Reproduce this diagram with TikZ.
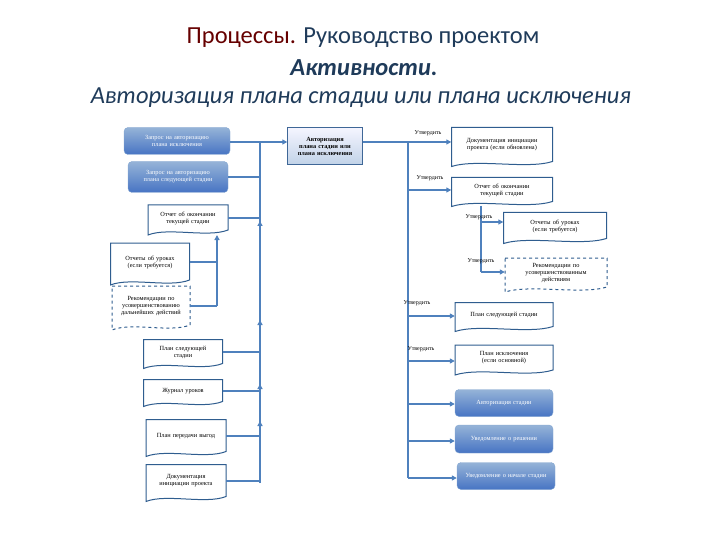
\documentclass[tikz,border=0pt]{standalone}
\usepackage{fontspec}
\setmainfont{Liberation Serif}
\newfontfamily\titlefont{Carlito}
\usetikzlibrary{arrows.meta,calc}
\definecolor{ln}{HTML}{4F81BD}
\definecolor{bd}{HTML}{2F5D8F}
\definecolor{tt}{HTML}{1F3B5A}
\tikzset{
 docb/.style={minimum width=#1, inner sep=1pt, text width=#1-18pt, align=center, font=\fontsize{6.3}{7}\selectfont},
 docline/.style={draw=bd, line width=1pt, fill=white},
 bluebox/.style={rounded corners=4pt, top color=ln!60!white, bottom color=ln!90!blue, draw=ln!70!white, text=white, align=center, font=\fontsize{6.3}{7}\selectfont, inner sep=2pt},
 conn/.style={draw=ln, line width=1.6pt},
 arr/.style={conn, -{Triangle[length=5pt,width=5pt]}},
 lab/.style={font=\fontsize{6}{6.5}\selectfont, inner sep=1pt}
}
\newcommand\dnode[7]{%
 \path[docline,#7] (#2-#4/2,#3-#5/2) -- (#2+#4/2,#3-#5/2) -- (#2+#4/2,#3+#5/2-3)
 .. controls (#2+#4/4,#3+#5/2+5) and (#2-#4/4,#3+#5/2-6) .. (#2-#4/2,#3+#5/2+2) -- cycle;
 \node[docb=#4pt, minimum height=#5pt] (#1) at (#2,#3-1) {#6};}
\begin{document}
\begin{tikzpicture}[x=1pt,y=-1pt]
\useasboundingbox (0,0) rectangle (720,540);
\node[font=\titlefont\fontsize{24.5}{26}\selectfont] (t1) at (363,38) {\color{red!40!black}Процессы. \color{tt}Руководство проектом};
\node[font=\titlefont\fontsize{24.5}{26}\selectfont\bfseries\itshape, text=tt] (t2) at (364,68) {Активности.};
\node[font=\titlefont\fontsize{24.5}{26}\selectfont\itshape, text=tt] (t3) at (361,98) {Авторизация плана стадии или плана исключения};
\node[bluebox, minimum width=106pt, minimum height=27pt, text width=92pt] (A1) at (177,141) {Запрос на авторизацию плана исключения};
\node[bluebox, minimum width=100pt, minimum height=31pt, text width=86pt] (A2) at (178,177) {Запрос на авторизацию плана следующей стадии};
\dnode{A3}{188}{219}{80}{28}{Отчет об окончании текущей стадии}{}
\dnode{A4}{150}{263}{79}{40}{Отчеты об уроках (если требуется)}{}
\dnode{A5}{151}{307}{78}{42}{Рекомендации по усовершенствованию дальнейших действий}{dashed}
\dnode{A6}{183}{353}{79}{27}{План следующей стадии}{}
\dnode{A7}{183}{392}{79}{25}{Журнал уроков}{}
\dnode{A8}{186}{437}{80}{35}{План передачи выгод}{}
\dnode{A9}{186}{482}{80}{35}{Документация инициации проекта}{}
\node[draw=ln!80!black, top color=blue!4, bottom color=ln!35, minimum width=75pt, minimum height=37pt, text width=62pt, align=center, font=\fontsize{6.3}{7}\selectfont\bfseries, inner sep=1pt] (C) at (325,146) {Авторизация плана стадии или плана исключения};
\coordinate (lbt) at (260,142);
\coordinate (lbb) at (260,483);
\draw[conn] (lbb) -- (lbt);
\draw[arr] (A1.east |- lbt) -- (C.west |- lbt);
\draw[conn] (A2.east) -- (A2.east -| lbt);
\draw[conn] (A3.east) -- (A3.east -| lbt);
\draw[conn] (A6.east) -- (A6.east -| lbt);
\draw[conn] (A7.east) -- (A7.east -| lbt);
\draw[conn] (A8.east) -- (A8.east -| lbt);
\draw[conn] (A9.east) -- (A9.east -| lbt);
\foreach \yy in {221,320,384,421} \draw[arr] (260,\yy+6) -- (260,\yy);
\coordinate (sb) at (217,235);
\draw[conn] (A4.east) -- (A4.east -| sb);
\draw[conn] (A5.east) -- (A5.east -| sb);
\draw[arr] (A5.east -| sb) -- (sb);
\coordinate (rbt) at (408,142);
\coordinate (rbb) at (408,478);
\draw[conn] (C.east |- rbt) -- (rbt) -- (rbb);
\dnode{R1}{502}{146}{101}{37}{Документация инициации проекта (если обновлена)}{}
\dnode{R2}{502}{191}{101}{27}{Отчет об окончании текущей стадии}{}
\dnode{R3}{555}{227}{103}{29}{Отчеты об уроках (если требуется)}{}
\dnode{R4}{556}{274}{102}{32}{Рекомендации по усовершенствованным действиям}{dashed}
\dnode{R5}{504}{316}{98}{27}{План следующей стадии}{}
\dnode{R6}{504}{359}{98}{28}{План исключения (если основной)}{}
\node[bluebox, minimum width=98pt, minimum height=27pt, text width=84pt] (R7) at (504,403) {Авторизация стадии};
\node[bluebox, minimum width=98pt, minimum height=28pt, text width=84pt] (R8) at (504,439) {Уведомление о решении};
\node[bluebox, minimum width=98pt, minimum height=27pt, text width=84pt] (R9) at (506,476) {Уведомление о начале стадии};
\draw[arr] (rbt) -- (R1.west |- rbt);
\draw[arr] (408,190) -- (408,190 -| R2.west);
\coordinate (sb2) at (481,206);
\draw[conn] (sb2) -- (481,272);
\draw[arr] (481,222) -- (481,222 -| R3.west);
\draw[arr] (481,272) -- (481,272 -| R4.west);
\draw[arr] (408,316) -- (408,316 -| R5.west);
\draw[arr] (408,361) -- (408,361 -| R6.west);
\draw[arr] (408,404) -- (408,404 -| R7.west);
\draw[arr] (408,441) -- (408,441 -| R8.west);
\draw[arr] (408,478) -- (R9.west |- rbb);
\node[lab] (l1) at (428,133) {Утвердить};
\node[lab] (l2) at (430,178) {Утвердить};
\node[lab] (l3) at (479,217) {Утвердить};
\node[lab] (l4) at (481,261) {Утвердить};
\node[lab] (l5) at (417,303) {Утвердить};
\node[lab] (l6) at (421,349) {Утвердить};
\end{tikzpicture}
\end{document}
